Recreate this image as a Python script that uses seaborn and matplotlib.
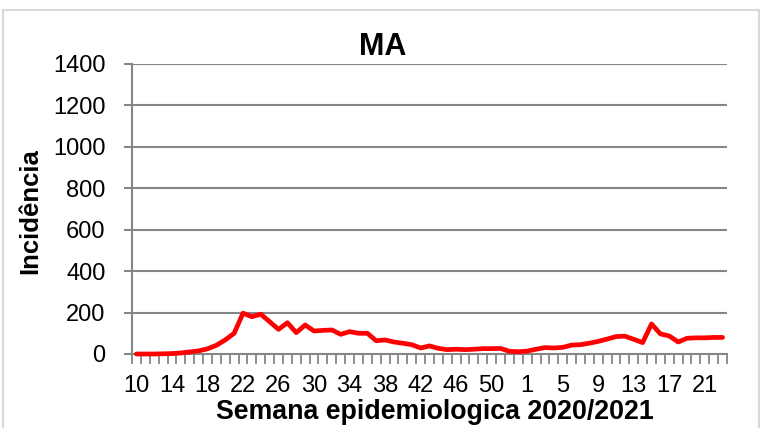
import numpy as np
import pandas as pd
import matplotlib
matplotlib.use("Agg")
import matplotlib.pyplot as plt
from matplotlib.patches import Rectangle
from matplotlib.ticker import FixedLocator
import seaborn as sns

# Epidemiological weeks: 10-53 of 2020 followed by 1-23 of 2021
weeks_2020 = list(range(10, 54))
weeks_2021 = list(range(1, 24))

incidencia_2020 = [0, 0, 0, 1, 2, 5, 10, 15, 25, 42,
                   68, 100, 197, 180, 192, 156, 119, 151, 103, 140,
                   111, 114, 116, 95, 108, 100, 100, 64, 68, 58,
                   52, 45, 29, 39, 27, 21, 23, 21, 23, 26,
                   26, 27, 13, 11]
incidencia_2021 = [14, 23, 31, 29, 32, 43, 45, 52, 61, 72,
                   84, 86, 71, 55, 145, 97, 87, 58, 76, 78,
                   78, 80, 80]

y_ticks = [0, 200, 400, 600, 800, 1000, 1200, 1400]

semanas = weeks_2020 + weeks_2021
valores = incidencia_2020 + incidencia_2021
df = pd.DataFrame({"pos": np.arange(len(semanas)), "semana": semanas, "inc": valores})

sns.set_theme(style="white")
plt.rcParams["font.family"] = ["Liberation Sans", "DejaVu Sans"]
plt.rcParams["text.color"] = "black"

fig = plt.figure(figsize=(7.64, 4.28), dpi=100)
ax = fig.add_axes([132 / 764, 1 - 354 / 428, 595 / 764, 290 / 428])

grid_c = "#868686"
ax.set_ylim(0, 1400)
ax.set_xlim(-0.5, len(semanas) - 0.5)
ax.set_yticks(y_ticks)
for v in y_ticks[1:]:
    ax.axhline(v, color=grid_c, lw=1.5, zorder=0)

sns.lineplot(data=df, x="pos", y="inc", ax=ax, color="#FF0000", lw=3.4,
             solid_joinstyle="round", solid_capstyle="round", zorder=3,
             clip_on=False)

# Labels every fourth week, tick marks at category boundaries
lab_pos = df["pos"].iloc[::4].tolist()
ax.set_xticks(lab_pos)
ax.set_xticklabels([str(s) for s in df["semana"].iloc[::4]])
ax.xaxis.set_minor_locator(FixedLocator(np.arange(-0.5, len(semanas), 1.0)))
ax.tick_params(axis="x", which="major", length=0, pad=15, labelsize=17,
               labelcolor="black")
ax.tick_params(axis="x", which="minor", length=7, width=1.3, color=grid_c,
               bottom=True, direction="out")
ax.tick_params(axis="y", which="major", length=6, width=1.5, color=grid_c,
               pad=13, labelsize=17, labelcolor="black", left=True)

for s in ["top", "right"]:
    ax.spines[s].set_visible(False)
for s in ["left", "bottom"]:
    ax.spines[s].set_color(grid_c)
    ax.spines[s].set_linewidth(1.5)

ax.set_xlabel("")
ax.set_ylabel("")

fig.text(383 / 764, 1 - 47 / 428, "MA", ha="center", va="center",
         fontsize=22, fontweight="bold", color="black")
fig.text(435 / 764, 1 - 412 / 428, "Semana epidemiologica 2020/2021",
         ha="center", va="center", fontsize=19.3, fontweight="bold",
         color="black")
fig.text(30 / 764, 1 - 211 / 428, "Incidência", ha="center", va="center",
         rotation=90, fontsize=18.5, fontweight="bold", color="black")

fig.patches.append(Rectangle((3 / 764, -0.05), 756 / 764, 1.05 - 10 / 428,
                             transform=fig.transFigure, fill=False,
                             edgecolor="#D9D9D9", lw=1.5))

fig.savefig("out.png", dpi=100)
